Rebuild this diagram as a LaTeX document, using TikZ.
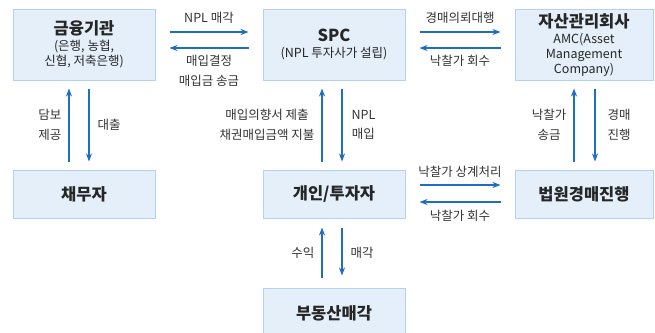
\documentclass[tikz,border=0pt]{standalone}
\usepackage{fontspec}
\setmainfont{Noto Sans CJK KR}
\usetikzlibrary{arrows.meta}
\definecolor{boxfill}{HTML}{E5EFFA}
\definecolor{boxline}{HTML}{B3D1F2}
\definecolor{flowblue}{HTML}{1F6EC0}
\definecolor{labelgray}{HTML}{333333}
\newcommand{\titlefont}{\fontsize{16.5}{18}\selectfont\bfseries}
\newcommand{\subfont}{\fontsize{12.5}{15}\selectfont}
\tikzset{
    party/.style={
        draw=boxline,
        fill=boxfill,
        line width=1pt,
        minimum width=142pt,
        inner sep=0pt,
        align=center,
        font=\subfont,
        text=black!85
    },
    toprow/.style={party, minimum height=71pt},
    lowrow/.style={party, minimum height=48pt},
    flow/.style={
        -{Stealth[length=8pt,width=6pt,inset=2.5pt]},
        draw=flowblue,
        line width=1.2pt
    },
    hgap/.style={shorten <=14pt, shorten >=14pt},
    vgap/.style={shorten <=8pt, shorten >=8pt},
    flowlabel/.style={
        font=\fontsize{12.5}{19.5}\selectfont,
        text=labelgray,
        align=center,
        inner sep=0pt
    },
}

\begin{document}
\begin{tikzpicture}[x=1pt, y=-1pt]
    \useasboundingbox (0,0) rectangle (655,332);

    % parties
    \node[toprow] (fin) at (84,44.5)
        {{\titlefont 금융기관}\\[1pt](은행, 농협,\\신협, 저축은행)};
    \node[toprow] (spc) at (334,44.5)
        {{\titlefont SPC}\\[1pt](NPL 투자사가 설립)};
    \node[toprow, minimum width=138pt] (amc) at (584,44.5)
        {{\titlefont 자산관리회사}\\[1pt]AMC(Asset\\Management\\Company)};
    \node[lowrow] (debtor)   at (84,194)  {\titlefont 채무자};
    \node[lowrow] (investor) at (334,194) {\titlefont 개인/투자자};
    \node[lowrow, minimum width=138pt] (court) at (584,194) {\titlefont 법원경매진행};
    \node[party, minimum height=50pt] (sale) at (334,313) {\titlefont 부동산매각};

    % top row flows
    \draw[flow, hgap] ([yshift=12.5pt]fin.east) -- ([yshift=12.5pt]spc.west)
        node[flowlabel, midway, above=8pt] {NPL 매각};
    \draw[flow, hgap] ([yshift=-3.5pt]spc.west) -- ([yshift=-3.5pt]fin.east)
        node[flowlabel, midway, below=7pt] {매입결정\\매입금 송금};
    \draw[flow, hgap] ([yshift=12.5pt]spc.east) -- ([yshift=12.5pt]amc.west)
        node[flowlabel, midway, above=8pt] {경매의뢰대행};
    \draw[flow, hgap] ([yshift=-3.5pt]amc.west) -- ([yshift=-3.5pt]spc.east)
        node[flowlabel, midway, below=7pt] {낙찰가 회수};

    % vertical flows
    \draw[flow, vgap] ([xshift=-15pt]debtor.north) -- ([xshift=-15pt]fin.south)
        node[flowlabel, midway, left=7pt] {담보\\제공};
    \draw[flow, vgap] ([xshift=5pt]fin.south) -- ([xshift=5pt]debtor.north)
        node[flowlabel, midway, right=8pt] {대출};
    \draw[flow, vgap] ([xshift=-12pt]investor.north) -- ([xshift=-12pt]spc.south)
        node[flowlabel, midway, left=7pt] {매입의향서 제출\\채권매입금액 지불};
    \draw[flow, vgap] ([xshift=8pt]spc.south) -- ([xshift=8pt]investor.north)
        node[flowlabel, midway, right=9pt] {NPL\\매입};
    \draw[flow, vgap] ([xshift=-10pt]court.north) -- ([xshift=-10pt]amc.south)
        node[flowlabel, midway, left=7pt] {낙찰가\\송금};
    \draw[flow, vgap] ([xshift=11pt]amc.south) -- ([xshift=11pt]court.north)
        node[flowlabel, midway, right=12pt] {경매\\진행};

    % lower row flows
    \draw[flow, hgap] ([yshift=9pt]investor.east) -- ([yshift=9pt]court.west)
        node[flowlabel, midway, above=7pt] {낙찰가 상계처리};
    \draw[flow, hgap] ([yshift=-8pt]court.west) -- ([yshift=-8pt]investor.east)
        node[flowlabel, midway, below=8pt] {낙찰가 회수};

    \draw[flow, shorten <=10pt, shorten >=9pt] ([xshift=-12pt]sale.north) -- ([xshift=-12pt]investor.south)
        node[flowlabel, midway, left=7pt] {수익};
    \draw[flow, shorten <=9pt, shorten >=12pt] ([xshift=8pt]investor.south) -- ([xshift=8pt]sale.north)
        node[flowlabel, midway, right=8pt] {매각};
\end{tikzpicture}
\end{document}
